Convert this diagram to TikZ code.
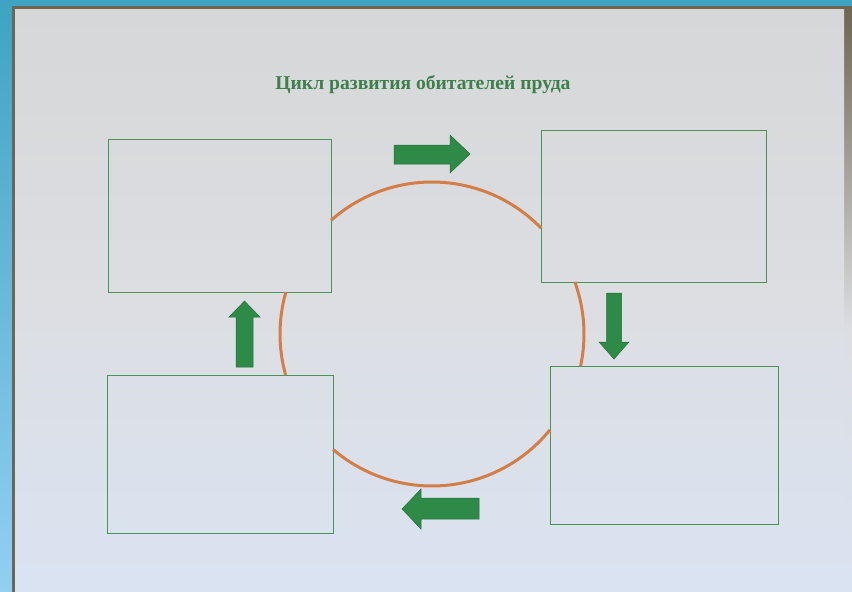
\documentclass[tikz,border=0pt]{standalone}
\usepackage{fontspec}
\newfontfamily\titlefont{Liberation Serif}
\definecolor{boxgreen}{HTML}{4A9358}
\definecolor{titlegreen}{HTML}{3E7F4C}
\definecolor{arrowgreen}{HTML}{2E8A47}
\definecolor{arrowedge}{HTML}{246E39}
\definecolor{ringorange}{HTML}{D37D47}
\definecolor{frameedge}{HTML}{6E6552}
\definecolor{pagetop}{HTML}{D6D7D8}
\definecolor{pagemid}{HTML}{DCDEE2}
\definecolor{pagebot}{HTML}{DAE3F2}
\definecolor{skytop}{HTML}{3FA3C2}
\definecolor{skybot}{HTML}{92CFF3}
\tikzset{
  cardbox/.style={draw=boxgreen, line width=0.9pt, rectangle, inner sep=0pt},
  blockarrow/.style={fill=arrowgreen, draw=arrowedge, line width=0.5pt, line join=miter},
  ring/.style={draw=ringorange, line width=3pt},
  titletext/.style={font=\titlefont\bfseries\fontsize{19.6}{22}\selectfont, text=titlegreen}
}
\begin{document}
\begin{tikzpicture}[x=1pt,y=-1pt]
\useasboundingbox (0,0) rectangle (852,592);
% screen behind the sheet
\fill[top color=skytop, bottom color=skybot] (0,0) rectangle (852,592);
% sheet frame edge
\fill[frameedge] (12,6) rectangle (852,592);
\fill[top color=frameedge, bottom color=pagemid] (843,6) rectangle (852,330);
% sheet
\fill[top color=pagetop, bottom color=pagebot, middle color=pagemid] (15,9) rectangle (844,592);
\fill[top color=pagemid, bottom color=pagebot] (844,330) rectangle (852,592);
% title
\node[titletext] (title) at (423,85) {Цикл развития обитателей пруда};
% four boxes
\node[cardbox, minimum width=223pt, minimum height=153pt] (tl) at (219.5,215.5) {};
\node[cardbox, minimum width=225pt, minimum height=152pt] (tr) at (653.5,206) {};
\node[cardbox, minimum width=226pt, minimum height=158pt] (bl) at (220,454) {};
\node[cardbox, minimum width=228pt, minimum height=158pt] (br) at (664,445) {};
% ring (visible arcs only)
\coordinate (c) at (432,334);
\draw[ring] ([shift={(-44.2:152)}]c) arc[start angle=-44.2, end angle=-131.6, radius=152];
\draw[ring] ([shift={(-164:152)}]c) arc[start angle=-164, end angle=-195.6, radius=152];
\draw[ring] ([shift={(-229.4:152)}]c) arc[start angle=-229.4, end angle=-320.9, radius=152];
\draw[ring] ([shift={(12.2:152)}]c) arc[start angle=12.2, end angle=-20, radius=152];
% arrows
\draw[blockarrow] (394,145) -- (450,145) -- (450,135) -- (470,154) -- (450,173) -- (450,164) -- (394,164) -- cycle;
\draw[blockarrow] (606.5,293) -- (621.5,293) -- (621.5,342) -- (629,342) -- (614,359) -- (599,342) -- (606.5,342) -- cycle;
\draw[blockarrow] (479,498) -- (479,519) -- (421,519) -- (421,529) -- (402,509) -- (421,489) -- (421,498) -- cycle;
\draw[blockarrow] (236,367) -- (236,317) -- (229,317) -- (244.5,301) -- (260,317) -- (253,317) -- (253,367) -- cycle;
\end{tikzpicture}
\end{document}
